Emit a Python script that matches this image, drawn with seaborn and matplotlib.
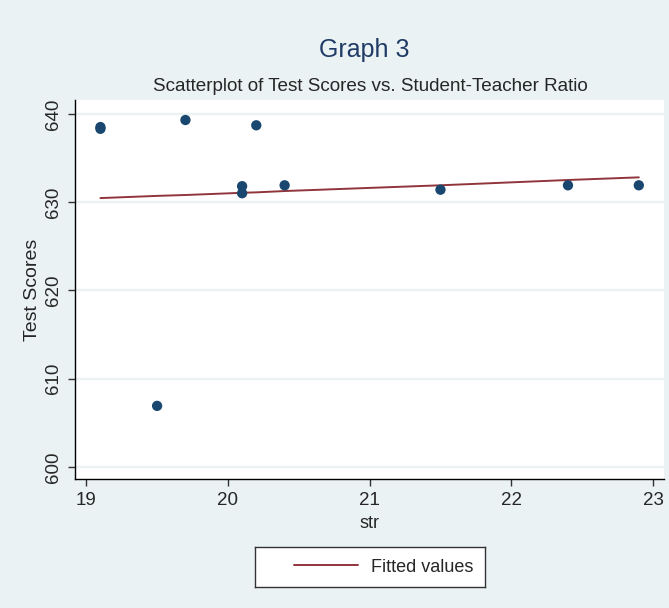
import numpy as np
import pandas as pd
import seaborn as sns
import matplotlib.pyplot as plt

# values
str_vals = [19.1, 19.1, 19.5, 19.7, 20.1, 20.1, 20.2, 20.4, 21.5, 22.4, 22.9]
test_scores = [638.5, 638.3, 606.9, 639.3, 631.8, 631.0, 638.7, 631.9, 631.4, 631.9, 631.9]
fitted_vals = [630.45, 630.45, 630.7, 630.8, 631.05, 631.05, 631.1, 631.25, 631.9, 632.5, 632.8]
x_ticks = [19, 20, 21, 22, 23]
y_ticks = [600, 610, 620, 630, 640]

df = pd.DataFrame({'str': str_vals, 'testscr': test_scores, 'fitted': fitted_vals})

sns.set_style('white')
plt.rcParams['font.family'] = ['Liberation Sans', 'DejaVu Sans']

bg = '#eaf2f3'
fig = plt.figure(figsize=(6.69, 6.08), dpi=100, facecolor=bg)
ax = fig.add_axes([0.112, 0.212, 0.881, 0.624])
ax.set_facecolor('white')

# fitted line
sns.lineplot(data=df, x='str', y='fitted', ax=ax, color='#90353b', lw=1.4,
             label='Fitted values', legend=False)
sns.scatterplot(data=df, x='str', y='testscr', ax=ax, color='#1a476f', s=55,
                edgecolor='none', zorder=3, legend=False)

ax.set_xlim(18.92, 23.08)
ax.set_ylim(598.6, 641.6)
ax.set_xticks(x_ticks)
ax.set_yticks(y_ticks)
ax.grid(axis='y', color=bg, lw=1.6)
ax.set_axisbelow(True)
for side in ['top', 'right']:
    ax.spines[side].set_visible(False)
for side in ['left', 'bottom']:
    ax.spines[side].set_color('black')
    ax.spines[side].set_linewidth(1.0)
ax.tick_params(axis='both', direction='out', length=5, width=1, color='#333333',
               labelsize=13.5, bottom=True, left=True, pad=4)
plt.setp(ax.get_yticklabels(), rotation=90, va='center')

ax.set_xlabel('str', fontsize=13)
ax.xaxis.set_label_coords(0.5, -0.095)
ax.set_ylabel('Test Scores', fontsize=14)
ax.yaxis.set_label_coords(-0.057, 0.5)

fig.text(0.545, 0.918, 'Graph 3', ha='center', va='center', fontsize=18, color='#1f3b66')
fig.text(0.553, 0.857, 'Scatterplot of Test Scores vs. Student-Teacher Ratio',
         ha='center', va='center', fontsize=13.6)

# legend box under the plot
lax = fig.add_axes([255 / 669, 1 - 587 / 608, 230 / 669, 40 / 608])
lax.set_facecolor('white')
lax.set_xticks([])
lax.set_yticks([])
for s in lax.spines.values():
    s.set_color('#333333')
    s.set_linewidth(1.0)
handles, labels = ax.get_legend_handles_labels()
lax.legend(handles, labels, loc='center', bbox_to_anchor=(0.56, 0.5), frameon=False,
           fontsize=13, handlelength=3.55, handletextpad=0.7)

fig.savefig('out.png', dpi=100, facecolor=bg)
